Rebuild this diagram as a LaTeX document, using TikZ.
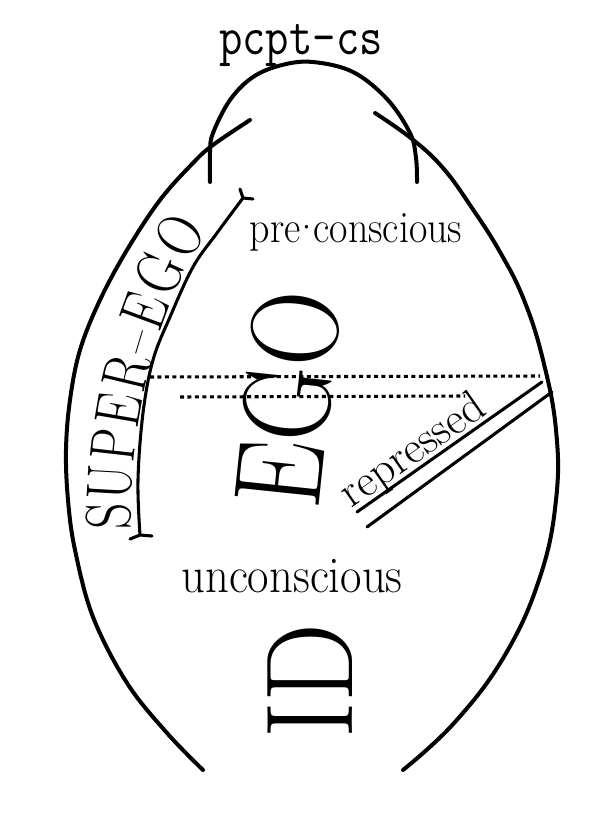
\documentclass[tikz,border=0pt]{standalone}
\usepackage{fontspec}
\usetikzlibrary{decorations.text}

\begin{document}
\begin{tikzpicture}[
    x=0.75pt, y=-0.75pt,
    outline/.style={line width=3pt, line cap=round, line join=round},  % thick hand drawn curves
    thinline/.style={line width=2.3pt, line cap=round, line join=round}, % inner edge and repressed bars
    border/.style={line width=2.3pt, dash pattern=on 3pt off 2.6pt},    % dotted borders
    word/.style={inner sep=0pt, anchor=base},                            % small labels
    bigword/.style={inner sep=0pt, font=\fontsize{93}{93}\selectfont},   % EGO and ID
    bandletter/.style={inner sep=0pt, anchor=base, sloped, allow upside down,
        font=\fontsize{48}{48}\selectfont}                               % letters of SUPER-EGO
    ]

    \useasboundingbox (0,0) rectangle (606,816);

    % pcpt-cs arch on top
    \draw[outline] plot[smooth, tension=0.6] coordinates {(210,182) (210,152) (213,133) (230,100) (253,77) (282,65) (313,62) (353,72) (387,99) (410,133) (416,158) (417,182)};

    % outer egg, left and right halves
    \draw[outline] plot[smooth, tension=0.6] coordinates {(250,120) (213,145) (193,163) (160,200) (127,250) (100,300) (80,350) (70,400) (66,450) (68,500) (75,550) (93,617) (127,683) (167,733) (203,770)};
    \draw[outline] plot[smooth, tension=0.7] coordinates {(375,113) (412,139) (443,168) (472,208) (500,252) (524,300) (543,360) (556,430) (556,500) (540,577) (505,655) (455,722) (403,770)};

    % inner edge of the super-ego band
    \draw[thinline] plot[smooth, tension=0.6] coordinates {(243,198) (217,233) (193,267) (170,317) (153,360) (143,413) (138,480) (140,535)};
    \coordinate (seTop) at (243,198);
    \coordinate (seBot) at (140,535);
    \draw[thinline] (seTop) -- ++(-3,-9) (seTop) -- ++(10,1);
    \draw[thinline] (seBot) -- ++(-10,4) (seBot) -- ++(12,1);

    % the two dotted borders
    \coordinate (dotA1) at (150,377);
    \coordinate (dotA2) at (540,376);
    \coordinate (dotB1) at (180,397);
    \coordinate (dotB2) at (465,396);
    \draw[border] (dotA1) -- (dotA2);
    \draw[border] (dotB1) -- (dotB2);

    % double bar under repressed
    \coordinate (repA1) at (357,512);
    \coordinate (repA2) at (542,382);
    \coordinate (repB1) at (367,527);
    \coordinate (repB2) at (552,392);
    \draw[thinline] (repA1) -- (repA2);
    \draw[thinline] (repB1) -- (repB2);

    % labels
    \node[word, font=\ttfamily\fontsize{34}{34}\selectfont] (pcpt) at (301,55) {\scalebox{1}[1.2]{pcpt-cs}};
    \node[word, font=\fontsize{30}{30}\selectfont] (precs) at (356,243) {\scalebox{1}[1.12]{pre\kern-0.2em·\kern-0.2em conscious}};
    \node[word, font=\fontsize{35}{35}\selectfont] (uncs) at (292,592) {\scalebox{1}[1.1]{unconscious}};
    \node[word, font=\fontsize{34}{34}\selectfont, rotate=35] (repr) at (420,461) {repressed};

    % big rotated words
    \node[bigword, rotate=84] (ego) at (288,399) {\scalebox{0.84}[1]{EGO}};
    \node[bigword, rotate=90] (id) at (310,681) {\scalebox{0.9}[1]{ID}};

    % super-ego written along the band
    \coordinate (seA) at (131,537);
    \coordinate (seB) at (213,222);
    \path (seA) .. controls (129,430) and (150,320) .. (seB)
        \foreach \ch/\p in {S/0.063, U/0.165, P/0.277, E/0.384, R/0.494, –/0.591, E/0.683, G/0.797, O/0.919}
            {node[bandletter, pos=\p] {\scalebox{0.8}[1]{\ch}}};

\end{tikzpicture}
\end{document}
